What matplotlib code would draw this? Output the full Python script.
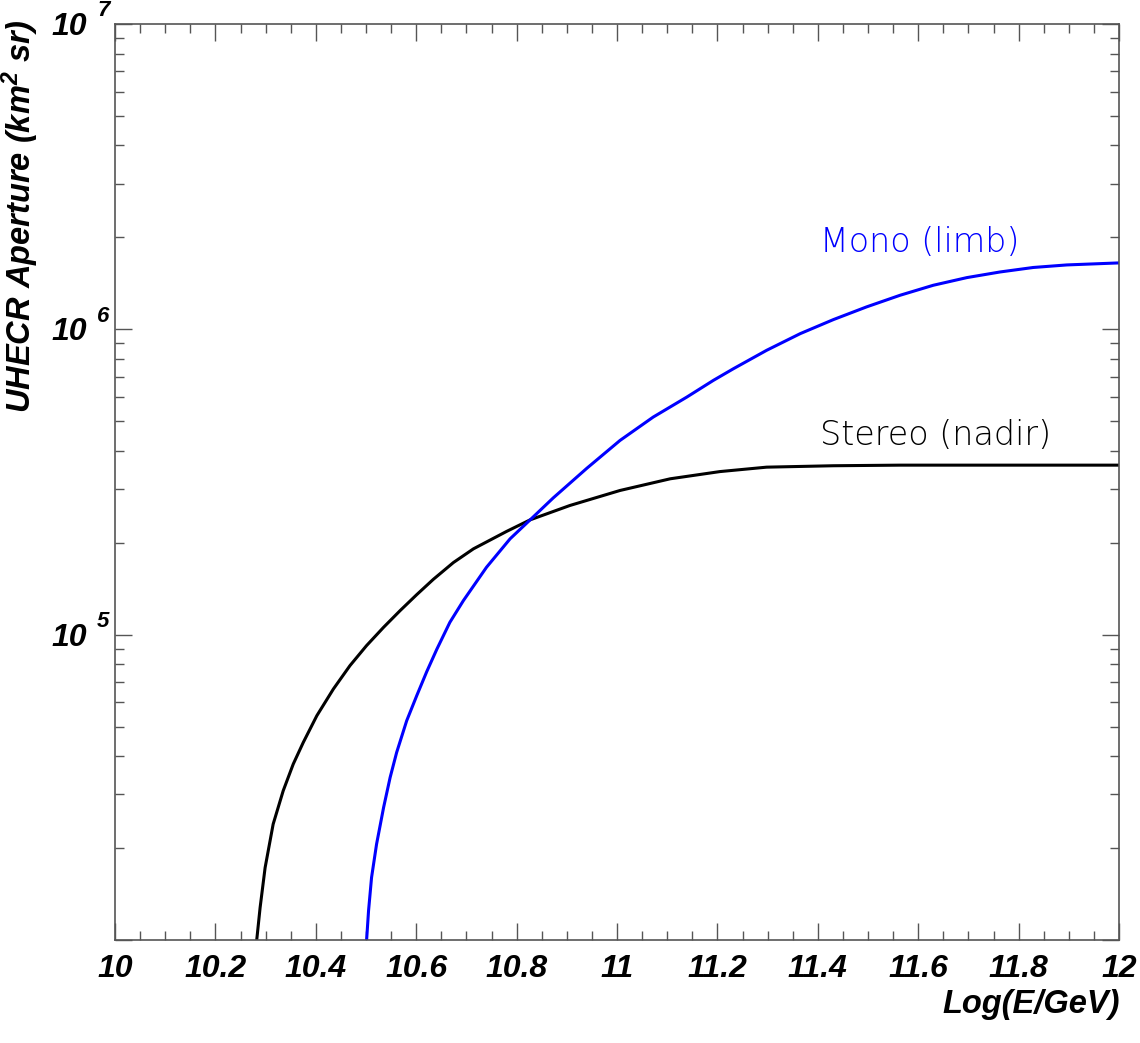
import numpy as np
from matplotlib import pyplot as plt
from matplotlib.ticker import MultipleLocator, LogLocator, NullFormatter
from matplotlib.transforms import offset_copy

# curves (x = log10(E/GeV), y = aperture in km^2 sr)
log_e_stereo = [10.282, 10.289, 10.299, 10.315, 10.335, 10.355, 10.375, 10.402,
                10.435, 10.468, 10.501, 10.535, 10.568, 10.601, 10.634, 10.674,
                10.714, 10.780, 10.827, 10.906, 11.006, 11.106, 11.205, 11.298,
                11.431, 11.564, 12.0]
aper_stereo = [9.9e3, 1.276e4, 1.726e4, 2.395e4, 3.08e4, 3.767e4, 4.436e4, 5.426e4,
               6.637e4, 7.916e4, 9.204e4, 1.057e5, 1.199e5, 1.352e5, 1.517e5, 1.722e5,
               1.91e5, 2.178e5, 2.377e5, 2.648e5, 2.966e5, 3.239e5, 3.42e5, 3.536e5,
               3.574e5, 3.59e5, 3.59e5]

log_e_mono = [10.501, 10.505, 10.511, 10.521, 10.535, 10.548, 10.561, 10.581,
              10.601, 10.621, 10.641, 10.667, 10.694, 10.740, 10.787, 10.827,
              10.873, 10.940, 11.006, 11.072, 11.139, 11.192, 11.232, 11.298,
              11.365, 11.431, 11.497, 11.564, 11.630, 11.697, 11.763, 11.829,
              11.896, 12.0]
aper_mono = [9.9e3, 1.245e4, 1.601e4, 2.06e4, 2.716e4, 3.405e4, 4.113e4, 5.224e4,
             6.31e4, 7.568e4, 8.954e4, 1.097e5, 1.293e5, 1.662e5, 2.06e5, 2.377e5,
             2.805e5, 3.508e5, 4.326e5, 5.158e5, 5.998e5, 6.805e5, 7.431e5, 8.535e5,
             9.68e5, 1.076e6, 1.184e6, 1.293e6, 1.394e6, 1.477e6, 1.541e6, 1.594e6,
             1.625e6, 1.65e6]

x_ticks = [10, 10.2, 10.4, 10.6, 10.8, 11, 11.2, 11.4, 11.6, 11.8, 12]
x_tick_labels = ['10', '10.2', '10.4', '10.6', '10.8', '11', '11.2', '11.4',
                 '11.6', '11.8', '12']
y_decades = [5, 6, 7]

plt.rcParams['font.family'] = ['Liberation Sans', 'DejaVu Sans']
plt.rcParams['mathtext.fontset'] = 'custom'
plt.rcParams['mathtext.rm'] = 'Liberation Sans:bold:italic'
plt.rcParams['mathtext.it'] = 'Liberation Sans:bold:italic'
plt.rcParams['mathtext.bf'] = 'Liberation Sans:bold:italic'

fig = plt.figure(figsize=(11.4, 10.43), dpi=100)
ax = fig.add_axes([0.1009, 0.0988, 0.8807, 0.8782])

ax.plot(log_e_stereo, aper_stereo, color='black', lw=2.2, solid_joinstyle='round')
ax.plot(log_e_mono, aper_mono, color='#0000ff', lw=2.2, solid_joinstyle='round')

ax.set_yscale('log')
ax.set_xlim(10, 12)
ax.set_ylim(1e4, 1e7)

#### ticks, ROOT style: inside, on all four sides
ax.set_xticks(x_ticks, x_tick_labels)
ax.xaxis.set_minor_locator(MultipleLocator(0.05))
ax.yaxis.set_major_locator(LogLocator(base=10))
ax.yaxis.set_minor_locator(LogLocator(base=10, subs=np.arange(2, 10)))
ax.yaxis.set_major_formatter(NullFormatter())
ax.yaxis.set_minor_formatter(NullFormatter())
ax.tick_params(which='both', direction='in', top=True, right=True, color='#555555', width=1)
ax.tick_params(which='major', length=12.5)
ax.tick_params(which='minor', length=6.3)
ax.tick_params(axis='x', which='major', labelsize=23, pad=10)
for lab in ax.get_xticklabels():
    lab.set_fontweight('bold')
    lab.set_fontstyle('italic')
for sp in ax.spines.values():
    sp.set_color('#555555')
    sp.set_linewidth(1.2)

# y labels as "10" with a raised exponent
ytrans = ax.get_yaxis_transform()
for d in y_decades:
    t1 = offset_copy(ytrans, fig=fig, x=-28, y=-3, units='dots')
    ax.text(0, 10.0 ** d, '10', transform=t1, ha='right', va='center',
            fontsize=23, fontweight='bold', fontstyle='italic')
    t2 = offset_copy(ytrans, fig=fig, x=-18, y=13, units='dots')
    ax.text(0, 10.0 ** d, str(d), transform=t2, ha='left', va='center',
            fontsize=16, fontweight='bold', fontstyle='italic')

fig.text(20 / 1140, 1 - 19 / 1043, 'UHECR Aperture (km$^{2}$ sr)', rotation=90,
         ha='center', va='top', fontsize=23.5, fontweight='bold', fontstyle='italic')
fig.text(1120 / 1140, 1 - 1004 / 1043, 'Log(E/GeV)', ha='right', va='center',
         fontsize=23.5, fontweight='bold', fontstyle='italic')

ax.text(11.404, 1.79e6, 'Mono (limb)', color='#0000ff', fontsize=24,
        family='DejaVu Sans', fontweight='light', va='baseline')
ax.text(11.404, 4.17e5, 'Stereo (nadir)', color='black', fontsize=24,
        family='DejaVu Sans', fontweight='light', va='baseline')

plt.savefig('out.png', dpi=100)
